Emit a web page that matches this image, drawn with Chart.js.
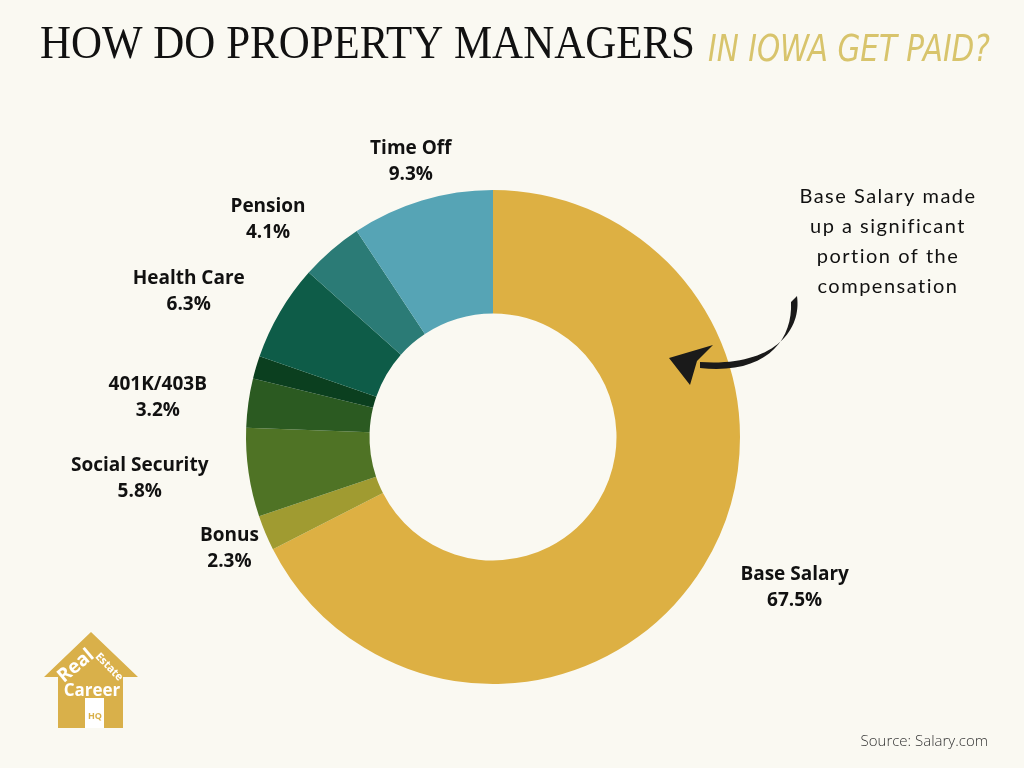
<!DOCTYPE html>
<html>
<head>
<meta charset="utf-8">
<style>
  html, body { margin: 0; padding: 0; background: #faf9f2; }
  #wrap { width: 1024px; height: 768px; position: relative; }
</style>
</head>
<body>
<div id="wrap">
  <canvas id="payChart" width="1024" height="768"></canvas>
</div>

<script src="https://cdn.jsdelivr.net/npm/chart.js"></script>
<script>
// data
const categories = ['Base Salary', 'Bonus', 'Social Security', '401K/403B', 'Other', 'Health Care', 'Pension', 'Time Off'];
const shares = [67.5, 2.3, 5.8, 3.2, 1.5, 6.3, 4.1, 9.3];
const sliceColors = ['#ddb043', '#a09b31', '#4f7325', '#2b5a21', '#0b3f1f', '#0e5c48', '#2b7b76', '#56a4b5'];
const unlabeled = ['Other'];

// small horizontal nudges so labels sit where the designer put them
const labelNudge = [32, 5, -26, -27, 0, -30, -29, 5];

const BG = '#faf9f2';

const decorPlugin = {
  id: 'decor',
  beforeDraw(chart) {
    const ctx = chart.ctx;
    ctx.save();
    ctx.fillStyle = BG;
    ctx.fillRect(0, 0, chart.width, chart.height);
    ctx.restore();
  },
  afterDraw(chart) {
    const ctx = chart.ctx;
    const arcs = chart.getDatasetMeta(0).data;

    // slice labels
    ctx.save();
    ctx.font = '700 19px "Open Sans"';
    ctx.fillStyle = '#111';
    ctx.textAlign = 'center';
    ctx.textBaseline = 'middle';
    arcs.forEach((arc, i) => {
      if (unlabeled.includes(categories[i])) return;
      const p = arc.getProps(['x', 'y', 'startAngle', 'endAngle', 'outerRadius'], true);
      const mid = (p.startAngle + p.endAngle) / 2;
      const dx = Math.cos(mid), dy = Math.sin(mid);
      const r = p.outerRadius + 15;
      const line1 = categories[i];
      const line2 = shares[i].toFixed(1) + '%';
      const w = Math.max(ctx.measureText(line1).width, ctx.measureText(line2).width);
      const h = 52;
      const cx = p.x + dx * r + dx * w / 2 + labelNudge[i];
      const cy = p.y + dy * r + dy * h / 2;
      ctx.fillText(line1, cx, cy - 13);
      ctx.fillText(line2, cx, cy + 13);
    });
    ctx.restore();

    // title
    ctx.save();
    ctx.fillStyle = '#111';
    ctx.textBaseline = 'alphabetic';
    ctx.textAlign = 'left';
    ctx.font = '46px "Liberation Serif"';
    ctx.fillText('HOW DO PROPERTY MANAGERS', 40, 58, 655);
    ctx.fillStyle = '#d8c46c';
    ctx.font = 'italic 200 38px "DejaVu Sans"';
    ctx.fillText('IN IOWA GET PAID?', 708, 61, 282);
    ctx.restore();

    // annotation
    ctx.save();
    ctx.fillStyle = '#111';
    ctx.font = '20px Lato';
    ctx.letterSpacing = '1.5px';
    ctx.textAlign = 'center';
    ['Base Salary made', 'up a significant', 'portion of the', 'compensation'].forEach((t, k) => {
      ctx.fillText(t, 888, 203 + k * 30);
    });
    ctx.restore();

    // brush arrow
    ctx.save();
    ctx.fillStyle = '#1a1a1a';
    ctx.beginPath();
    ctx.moveTo(797, 296);
    ctx.bezierCurveTo(802, 332, 772, 367, 700, 362);
    ctx.lineTo(700, 368);
    ctx.bezierCurveTo(764, 375, 793, 342, 791, 302);
    ctx.closePath();
    ctx.fill();
    ctx.beginPath();
    ctx.moveTo(669, 358);
    ctx.lineTo(713, 345);
    ctx.lineTo(697, 361);
    ctx.lineTo(690, 385);
    ctx.closePath();
    ctx.fill();
    ctx.restore();

    // logo
    ctx.save();
    const gold = '#d9b04a';
    ctx.fillStyle = gold;
    ctx.beginPath();
    ctx.moveTo(91, 632);
    ctx.lineTo(138, 677);
    ctx.lineTo(123, 677);
    ctx.lineTo(123, 728);
    ctx.lineTo(58, 728);
    ctx.lineTo(58, 677);
    ctx.lineTo(44, 677);
    ctx.closePath();
    ctx.fill();
    ctx.fillStyle = '#ffffff';
    ctx.fillRect(85, 698, 19, 30);
    ctx.font = '700 19px "Open Sans"';
    ctx.textAlign = 'center';
    ctx.textBaseline = 'middle';
    ctx.save();
    ctx.translate(76, 666);
    ctx.rotate(-0.7);
    ctx.fillText('Real', 0, 0);
    ctx.restore();
    ctx.save();
    ctx.font = '700 11px "Open Sans"';
    ctx.translate(109, 667);
    ctx.rotate(0.8);
    ctx.fillText('Estate', 0, 0);
    ctx.restore();
    ctx.font = '700 17px "Open Sans"';
    ctx.fillText('Career', 92, 691);
    ctx.fillStyle = gold;
    ctx.font = '700 9px "Open Sans"';
    ctx.fillText('HQ', 95, 716);
    ctx.restore();

    // source
    ctx.save();
    ctx.fillStyle = '#333';
    ctx.font = '300 15px "Open Sans"';
    ctx.textAlign = 'right';
    ctx.fillText('Source: Salary.com', 988, 746);
    ctx.restore();
  }
};

new Chart(document.getElementById('payChart').getContext('2d'), {
  type: 'doughnut',
  data: {
    labels: categories,
    datasets: [{
      data: shares,
      backgroundColor: sliceColors,
      borderWidth: 0,
      hoverOffset: 0
    }]
  },
  options: {
    responsive: false,
    animation: false,
    cutout: '50%',
    layout: { padding: { top: 190, bottom: 84, left: 246, right: 284 } },
    plugins: {
      legend: { display: false },
      tooltip: { enabled: false }
    }
  },
  plugins: [decorPlugin]
});
</script>
</body>
</html>
